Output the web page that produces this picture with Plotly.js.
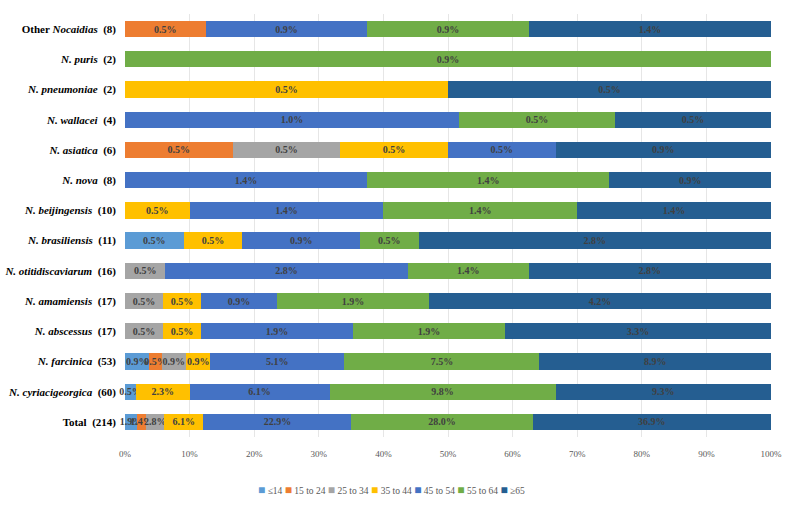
<!DOCTYPE html>
<html>
<head>
<meta charset="utf-8">
<script src="https://cdn.plot.ly/plotly-3.0.1.min.js"></script>
<style>html,body{margin:0;padding:0;background:#fff;}#chart{width:793px;height:512px;}</style>
</head>
<body>
<div id="chart"></div>
<script>
// Categories, bottom to top
const categories = [
  '<b>Total  (214)</b>',
  '<b><i>N. cyriacigeorgica</i>  (60)</b>',
  '<b><i>N. farcinica</i>  (53)</b>',
  '<b><i>N. abscessus</i>  (17)</b>',
  '<b><i>N. amamiensis</i>  (17)</b>',
  '<b><i>N. otitidiscaviarum</i>  (16)</b>',
  '<b><i>N. brasiliensis</i>  (11)</b>',
  '<b><i>N. beijingensis</i>  (10)</b>',
  '<b><i>N. nova</i>  (8)</b>',
  '<b><i>N. asiatica</i>  (6)</b>',
  '<b><i>N. wallacei</i>  (4)</b>',
  '<b><i>N. pneumoniae</i>  (2)</b>',
  '<b><i>N. puris</i>  (2)</b>',
  '<b>Other <i>Nocaidias</i>  (8)</b>'
];
const groupNames = ['\u226414', '15 to 24', '25 to 34', '35 to 44', '45 to 54', '55 to 64', '\u226565'];
// Percentages of all 214 cases, per category (same order as categories)
const age_le14   = [1.869, 0.467, 0.935, 0, 0, 0, 0.467, 0, 0, 0, 0, 0, 0, 0];
const age_15_24  = [1.402, 0, 0.467, 0, 0, 0, 0, 0, 0, 0.467, 0, 0, 0, 0.467];
const age_25_34  = [2.804, 0, 0.935, 0.467, 0.467, 0.467, 0, 0, 0, 0.467, 0, 0, 0, 0];
const age_35_44  = [6.075, 2.336, 0.935, 0.467, 0.467, 0, 0.467, 0.467, 0, 0.467, 0, 0.467, 0, 0];
const age_45_54  = [22.897, 6.075, 5.140, 1.869, 0.935, 2.804, 0.935, 1.402, 1.402, 0.467, 1.0, 0, 0, 0.935];
const age_55_64  = [28.037, 9.813, 7.477, 1.869, 1.869, 1.402, 0.467, 1.402, 1.402, 0, 0.467, 0, 0.935, 0.935];
const age_ge65   = [36.916, 9.346, 8.879, 3.271, 4.206, 2.804, 2.804, 1.402, 0.935, 0.935, 0.467, 0.467, 0, 1.402];
const seriesValues = [age_le14, age_15_24, age_25_34, age_35_44, age_45_54, age_55_64, age_ge65];
const colors = ['#5B9BD5', '#ED7D31', '#A5A5A5', '#FFC000', '#4472C4', '#70AD47', '#255E91'];
const xTicks = [0, 10, 20, 30, 40, 50, 60, 70, 80, 90, 100];

const SERIF = 'Liberation Serif';

const traces = seriesValues.map((vals, i) => ({
  type: 'bar',
  orientation: 'h',
  name: groupNames[i],
  y: categories,
  x: vals,
  text: vals.map(v => v > 0 ? v.toFixed(1) + '%' : ''),
  textposition: 'inside',
  insidetextanchor: 'middle',
  textangle: 0,
  cliponaxis: false,
  textfont: {family: SERIF, size: 10, color: '#404040', weight: 'bold'},
  marker: {color: colors[i], line: {width: 0}},
  showlegend: false,
  hoverinfo: 'name+x'
}));

// Compact legend built from the group names and colours
const legendText = groupNames.map((g, i) =>
  '<span style="color:' + colors[i] + ';font-size:12px">\u25A0</span> ' + g).join(' ');

const layout = {
  width: 793, height: 512,
  barmode: 'stack',
  barnorm: 'percent',
  bargap: 0.46,
  margin: {l: 125, r: 22, t: 14, b: 75},
  paper_bgcolor: '#ffffff',
  plot_bgcolor: '#ffffff',
  font: {family: SERIF},
  uniformtext: {mode: 'show', minsize: 10},
  xaxis: {
    range: [0, 100],
    tickvals: xTicks,
    ticktext: xTicks.map(t => t + '%'),
    showgrid: true, gridcolor: '#e6e6e6', gridwidth: 1,
    zeroline: false, showline: false,
    ticks: '', ticklen: 0,
    ticklabelstandoff: 10,
    tickfont: {family: SERIF, size: 9, color: '#595959'},
    fixedrange: true
  },
  yaxis: {
    type: 'category',
    showgrid: false, zeroline: false, showline: false,
    ticks: '', ticklen: 0,
    ticklabelstandoff: 8,
    tickfont: {family: SERIF, size: 11, color: '#000000'},
    automargin: false,
    fixedrange: true
  },
  showlegend: false,
  annotations: [{
    xref: 'paper', yref: 'paper',
    x: 0.412, y: -0.125, xanchor: 'center', yanchor: 'middle',
    showarrow: false,
    text: legendText,
    font: {family: SERIF, size: 9.5, color: '#595959'}
  }]
};

Plotly.newPlot('chart', traces, layout, {displayModeBar: false, staticPlot: true});
</script>
</body>
</html>
